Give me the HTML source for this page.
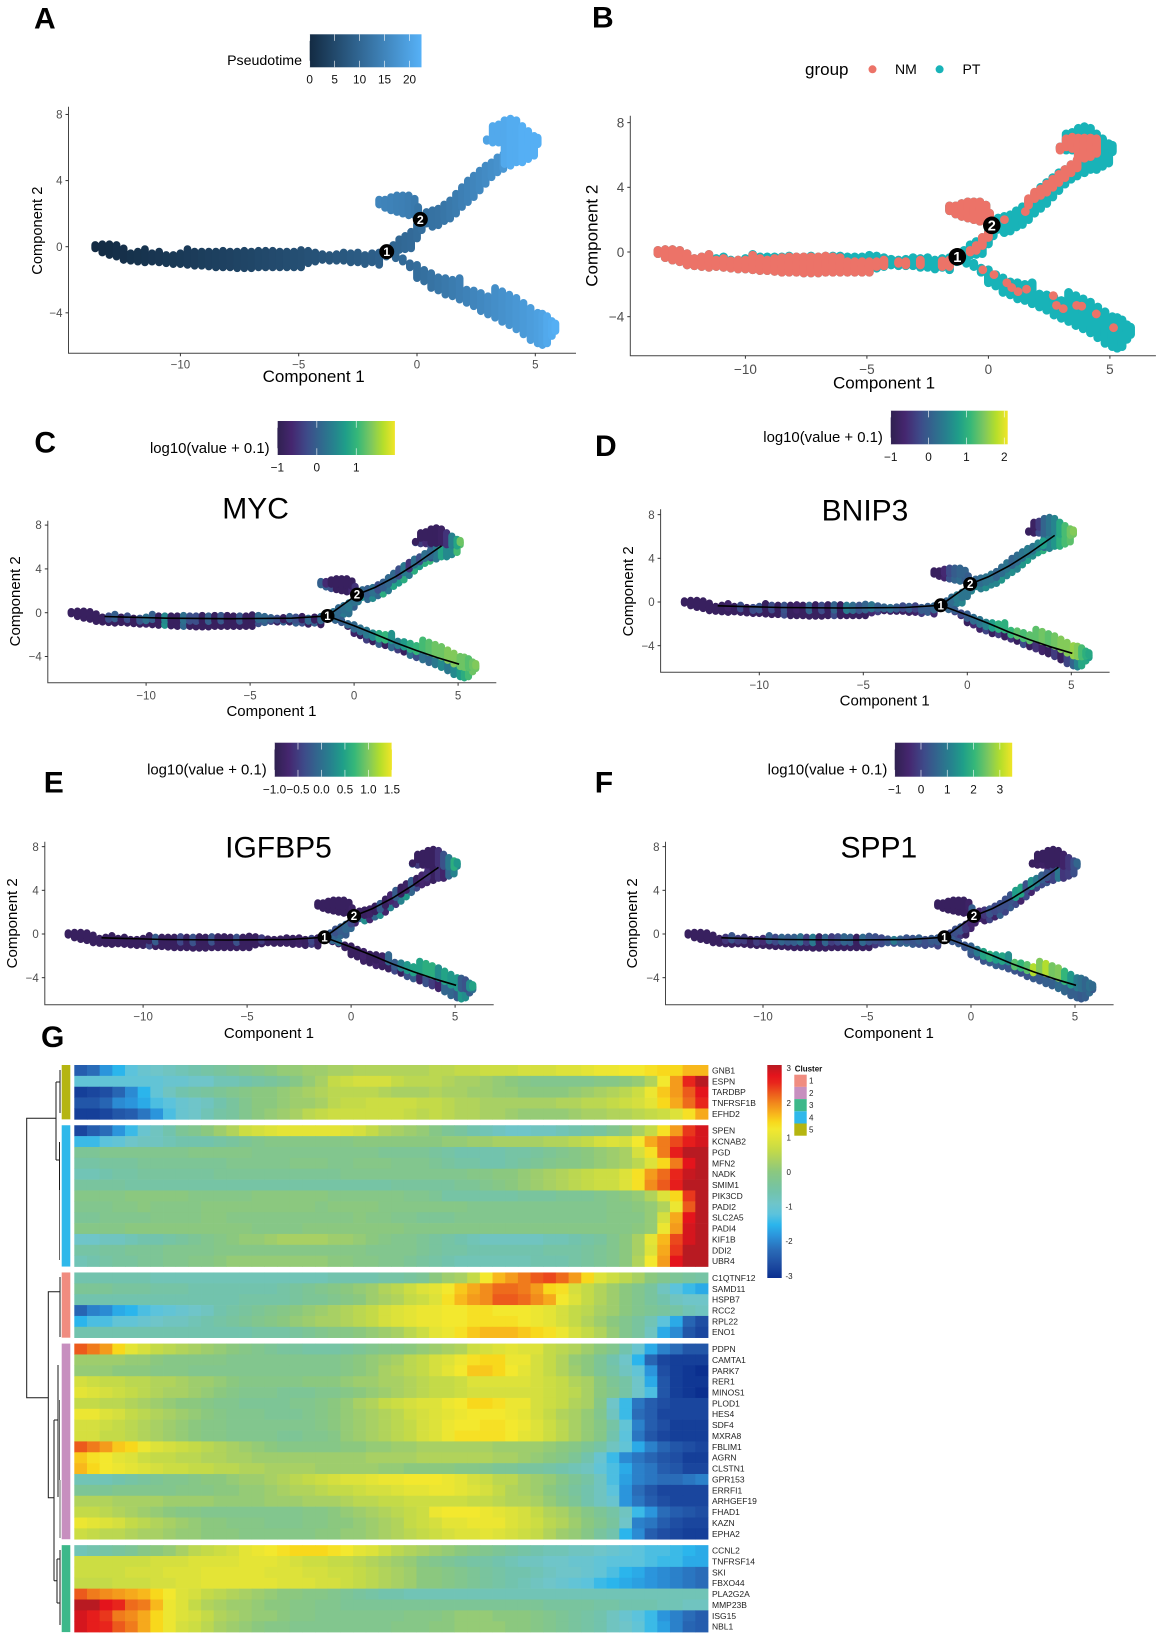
<!DOCTYPE html>
<html lang="en">
<head>
<meta charset="utf-8">
<title>Pseudotime trajectory figure</title>
<style>
html,body{margin:0;padding:0;background:#fff;}
svg{display:block;font-family:"Liberation Sans",sans-serif;}
</style>
</head>
<body>
<svg id="fig" width="1162" height="1637" viewBox="0 0 1162 1637">
<defs>
<linearGradient id="gradPseudo"><stop offset="0" stop-color="#132B43"/><stop offset="1" stop-color="#56B1F7"/></linearGradient>
<linearGradient id="gradViridis"><stop offset="0" stop-color="#2f2150"/><stop offset=".12" stop-color="#45266f"/><stop offset=".25" stop-color="#3e4a89"/><stop offset=".37" stop-color="#31688e"/><stop offset=".48" stop-color="#26828e"/><stop offset=".58" stop-color="#1f9e89"/><stop offset=".68" stop-color="#35b779"/><stop offset=".8" stop-color="#7ec85e"/><stop offset=".9" stop-color="#b5de2b"/><stop offset="1" stop-color="#f0e528"/></linearGradient>
<linearGradient id="gradHeat" x1="0" y1="0" x2="0" y2="1"></linearGradient>
</defs>
<rect width="1162" height="1637" fill="#fff"/>

<g font-weight="bold" font-size="30" fill="#000">
<text x="34" y="28.5">A</text>
<text x="592" y="27.5">B</text>
<text x="34.4" y="452.5">C</text>
<text x="595" y="456">D</text>
<text x="43.7" y="792.7">E</text>
<text x="594.7" y="792.7">F</text>
<text x="41" y="1047">G</text>
</g>

<g fill="#000">
<text x="302" y="65" font-size="14.2" text-anchor="end">Pseudotime</text>
<text x="805" y="75" font-size="17">group</text>
<text x="895" y="74" font-size="14">NM</text>
<text x="962.5" y="74" font-size="14">PT</text>
<text x="269.6" y="453" font-size="14.9" text-anchor="end">log10(value + 0.1)</text>
<text x="882.9" y="442" font-size="14.9" text-anchor="end">log10(value + 0.1)</text>
<text x="266.7" y="774.5" font-size="14.9" text-anchor="end">log10(value + 0.1)</text>
<text x="887.3" y="774.5" font-size="14.9" text-anchor="end">log10(value + 0.1)</text>
<text x="255.6" y="518.3" font-size="30" text-anchor="middle">MYC</text>
<text x="865" y="520.7" font-size="30" text-anchor="middle">BNIP3</text>
<text x="278.5" y="857.7" font-size="30" text-anchor="middle">IGFBP5</text>
<text x="878.8" y="857.7" font-size="30" text-anchor="middle">SPP1</text>
<text x="313.7" y="382" font-size="17" text-anchor="middle">Component 1</text>
<text x="884" y="388.5" font-size="17" text-anchor="middle">Component 1</text>
<text x="271.5" y="716" font-size="15" text-anchor="middle">Component 1</text>
<text x="884.7" y="705.5" font-size="15" text-anchor="middle">Component 1</text>
<text x="268.9" y="1038" font-size="15" text-anchor="middle">Component 1</text>
<text x="888.8" y="1038" font-size="15" text-anchor="middle">Component 1</text>
<text transform="translate(42 230.7) rotate(-90)" font-size="14.7" text-anchor="middle">Component 2</text>
<text transform="translate(597.5 235.7) rotate(-90)" font-size="17" text-anchor="middle">Component 2</text>
<text transform="translate(19.8 601.3) rotate(-90)" font-size="15" text-anchor="middle">Component 2</text>
<text transform="translate(633 591.3) rotate(-90)" font-size="15" text-anchor="middle">Component 2</text>
<text transform="translate(17.2 923.3) rotate(-90)" font-size="15" text-anchor="middle">Component 2</text>
<text transform="translate(637 923.3) rotate(-90)" font-size="15" text-anchor="middle">Component 2</text>
</g>

<path d="M56 1118.3H26.7V1397.7H48.3M60 1291.7H48.3V1497.7H54M60 1277V1337M54 1420V1580.7M54 1420H58M58 1365V1497M54 1580.7H57M57 1559V1603M57 1559H60M57 1603H60M60 1550V1590M60 1590V1625M56 1082V1160M56 1082H60M60 1070V1113M56 1160H59.5M59.5 1142V1190" fill="none" stroke="#1a1a1a" stroke-width="1"/>
<path d="M59.5 1190V1260M59.5 1400V1480M60 1480V1538" fill="none" stroke="#666" stroke-width="1"/>

<g id="panels"></g>
<g id="heat"></g>

<g font-size="8" fill="#111">
<text x="794.7" y="1071.5" font-weight="bold">Cluster</text>
</g>
</svg>

<script>
/* ---------- trajectory cells: one entry per cell column along Component 1 ---------- */
const colX=[
-13.6,-13.3,-13,-12.7,-12.4,-12.1,-11.8,-11.5,-11.2,-10.9,-10.6,-10.3,-10,-9.7,-9.4,-9.1,-8.8,-8.5,-8.2,-7.9,-7.6,-7.3,-7,-6.7,-6.4,-6.1,-5.8,-5.5,-5.2,-4.9,-4.6,-4.3,-4,-3.7,-3.4,-3.1,-2.8,-2.5,-2.2,-1.9,-1.6,-1.3,
-1,-.75,-.5,-.25,0,.2,
-1.6,-1.35,-1.1,-.85,-.6,-.35,-.1,.05,
.4,.65,.9,1.15,1.4,1.65,1.9,2.15,2.4,2.65,2.9,3.15,3.4,3.65,
2.95,3.2,3.45,3.7,3.95,4.2,4.45,4.7,4.95,5.1,
-.9,-.6,-.3,0,.3,.6,.9,1.2,1.5,1.8,2.1,2.4,2.7,3,3.3,3.6,3.9,4.2,4.5,4.8,5.1,5.3,5.5,5.7,5.85];
const colHi=[
.1,.15,.15,.1,-.1,-.4,-.3,-.15,-.4,-.3,-.5,-.5,-.4,-.15,-.3,-.3,-.3,-.3,-.25,-.3,-.3,-.25,-.3,-.25,-.25,-.25,-.3,-.3,-.3,-.2,-.25,-.35,-.45,-.5,-.45,-.35,-.4,-.35,-.5,-.4,-.35,-.3,
.1,.45,.65,.9,1.35,1.6,
2.85,2.85,3,3.1,3.1,3.1,2.9,2.4,
2.1,2.2,2.3,2.55,2.8,3.2,3.6,4,4.3,4.6,4.9,5.1,5.4,5.6,
6.5,7.3,7.4,7.65,7.75,7.65,7.3,7,6.7,6.6,
-.5,-.7,-1,-1.1,-1.4,-1.6,-1.85,-1.9,-2,-1.9,-2.6,-2.65,-2.8,-3,-2.5,-2.7,-2.9,-3.1,-3.4,-3.7,-4,-4.05,-4.2,-4.5,-4.65];
const colLo=[
-.1,-.35,-.5,-.6,-.8,-.85,-.9,-.95,-.9,-.95,-1,-1.05,-1.05,-1.1,-1.15,-1.15,-1.2,-1.25,-1.25,-1.25,-1.3,-1.3,-1.3,-1.25,-1.25,-1.25,-1.25,-1.25,-1.25,-1.25,-1,-.9,-.8,-.85,-.85,-.85,-.95,-.95,-1.05,-.95,-1.1,-.6,
-.1,-.2,-.15,-.1,.5,1,
2.55,2.35,2.2,2.1,2,1.9,1.9,2,
1.4,1.2,1.3,1.55,1.7,2,2.4,2.7,3,3.4,3.8,4.2,4.5,4.7,
6.4,6.3,6.3,5,4.9,5.1,5.1,5.3,5.5,6.2,
-.7,-.9,-1.25,-1.9,-2.1,-2.5,-2.65,-2.9,-3,-3.2,-3.4,-3.6,-3.9,-4.1,-4.3,-4.55,-4.75,-5,-5.3,-5.65,-5.85,-5.95,-5.85,-5.4,-5.1];
const pseudotime=[
0,.2,.4,.7,.9,1.1,1.3,1.5,1.7,1.9,2.1,2.3,2.5,2.7,2.9,3.1,3.3,3.5,3.7,3.9,4.1,4.3,4.5,4.8,5,5.2,5.4,5.6,5.8,6,6.3,6.5,6.8,7,7.3,7.5,7.8,8,8.3,8.6,8.9,9.3,
9.8,10,10.3,10.6,11,11.3,
15,14.7,14.5,14.2,14,13.7,13.2,12.5,
11.5,11.8,12,12.5,13,13.5,14,14.5,15,15.5,16,16.5,17,18,
20,21,21,21,21.5,21.5,22,22,22,22,
10,10.3,10.6,11,11.5,12,12.5,13,13.5,14,14.5,15,15.5,16,16.5,17,17.5,18,18.5,19,19.5,20,21,21.5,22];
/* NM sub-band of each column (null = PT only) */
const nmHi=[
.1,.15,.15,.1,-.1,-.4,-.3,-.15,-.5,-.4,-.55,-.5,-.5,-.2,-.4,-.5,-.4,-.35,-.3,-.3,-.3,-.3,-.3,-.25,-.3,-.35,-.6,-.6,-.6,-.6,-.6,-.5,null,-.6,-.6,null,-.5,null,null,-.55,-.5,null,
null,.1,.4,.9,1.2,null,
2.85,2.85,3,3.1,3.1,3.1,2.9,2.4,
null,null,null,null,null,3.3,3.7,3.9,4.2,4.5,4.8,5.1,5.4,5.7,
6.5,7,7.1,7.05,7.05,7.05,7,null,null,null,
null,null,null,null,null,null,null,null,null,null,null,null,null,null,null,null,null,null,null,null,null,null,null,null,null];
const nmLo=[
-.1,-.35,-.5,-.6,-.8,-.85,-.9,-.95,-.9,-.95,-1,-1.05,-1.05,-1.1,-1.15,-1.15,-1.2,-1.25,-1.25,-1.25,-1.3,-1.3,-1.3,-1.25,-1.25,-1.25,-1.25,-1.25,-1.25,-1.25,-.9,-.85,null,-.7,-.8,null,-.8,null,null,-.9,-.9,null,
null,0,.1,.4,.9,null,
2.55,2.35,2.2,2.1,2,1.9,1.9,2,
null,null,null,null,null,2.9,3.3,3.5,3.7,4,4.3,4.6,4.9,5.2,
6.3,6.5,6.4,5.9,5.8,5.9,6.1,null,null,null,
null,null,null,null,null,null,null,null,null,null,null,null,null,null,null,null,null,null,null,null,null,null,null,null,null];
const nmCellX=[-.23,.23,.76,.96,1.22,1.57,2.67,2.8,3.08,3.63,3.84,4.44,5.15,1.52,.66];
const nmCellY=[-1.1,-1.4,-1.9,-2.2,-2.45,-2.3,-2.7,-3.3,-3.5,-3.3,-3.35,-3.83,-4.68,2.5,2];
/* gene expression, log10(value+0.1): upper and lower half of every column */
const mycTop=[
-1,-1,-1,-1,-1,-1,-.2,0,-1,-.2,-1,-.1,.2,0,-1,.5,-1,-1,.2,-.2,-.2,-1,0,-1,-.1,-1,-1,-.1,-1,-1,.1,.1,0,-.2,-1,0,-.2,-1,.1,-1,.1,-1,
.2,.1,.2,.3,.2,0,
0,-.6,-1,-1,-1,-1,-1,-.5,
.1,0,.2,-.2,0,.1,.1,-.2,.3,-.5,.2,-.2,.2,.1,
-1,-1,-1,-1,-1,-.9,-.5,.4,.8,1.3,
.1,0,.1,.1,.2,.3,.5,.9,1,.6,.4,.7,.9,1,1.1,1.2,1.3,1.3,1.4,1.4,1.3,1.3,1.2,1.3,1.4];
const mycBot=[
-1,-1,-1,-1,-1,-1,-1,-1,-1,-1,-1,-1,-.8,-1,-1,.6,-1,-1,.1,-1,-1,-1,-1,-1,-1,-1,-1,-1,-1,-1,-.2,0,-.3,-1,0,-1,0,-.2,-1,0,-1,0,
0,.1,.3,.2,0,.3,
.1,0,-.2,-1,-1,-1,-.6,-.3,
.6,.1,.5,.1,.9,.3,.8,.7,.9,.3,.9,.7,.9,1,
-.2,-.4,-.6,-.2,.3,.8,.5,.5,1.1,1.2,
0,-.2,-1,-.8,-1,-.4,-1,0,-1,.1,-.4,-1,.2,-.2,.2,.1,.3,.5,.3,.5,.7,.9,1.1,1.3,1.3];
const bnip3Top=[
-1,-1,-1,-1,-1,-1,-1,-.8,-1,-.2,-1,-.2,-.1,-1,-.2,-1,-.1,-1,-.8,-1,.1,-1,-.2,-1,.1,-1,.4,.2,-.1,.1,.3,0,.1,.2,0,-.2,0,-.3,0,0,.1,0,
.1,.2,.4,.3,.3,.1,
-1,-1,-.6,-.2,0,.1,.1,0,
.1,.2,.3,.3,.1,.2,.3,.1,.2,.3,.4,.3,.5,.8,
-1,-.9,-.4,.1,.3,.5,.9,1.2,1.4,1.5,
.1,0,-.2,0,.2,.3,.5,.8,1,1,1.1,1.3,1.2,1.3,1.3,1.4,1.3,1.4,1.5,1.5,1.6,1.5,1.2,1,.9];
const bnip3Bot=[
-1,-1,-1,-1,-1,-1,-1,-1,-1,-1,-1,-1,-1,-1,-1,-1,-.2,-1,-1,-1,-1,-1,-1,-1,-.2,-1,-1,-1,-1,-1,-.6,-.4,-1,-.8,-1,-.9,-.9,-.8,-.4,0,-.6,-.6,
.1,.2,.4,.5,.3,.5,
-1,-.9,-.7,-.1,.1,.2,0,.1,
.5,.4,.6,.5,.5,.7,.5,.6,.5,.7,.8,.6,.8,1,
-1,-.9,-.2,.2,.5,.7,1,1.2,1.3,1.4,
.1,-.4,-.8,-1,-.6,-.8,-.3,-1,-.4,-1,-.5,-1,-.2,-1,-.5,-.8,-1,-.4,-1,-.3,.1,.5,.9,.9,.8];
const igfbp5Top=[
-1,-1,-1,-1,-1,-1,-1,-1,-1,-1,-1,-1,-1,-1,-.2,-1,-1,-1,-.4,-1,-.3,-1,-1,-.3,-1,-1,-1,-.3,-1,-1,-1,-.5,-1,-1,-1,-1,-1,-.9,-1,-.4,-1,-1,
-.2,-.3,-.2,-.1,-.4,-.9,
-1,-1,-1,-1,-1,-1,-1,-.9,
-1,-1,-.9,-1,-.2,-1,-.7,-.2,-1,-.9,-.2,-1,-.7,-.6,
-1,-1,-1,-1,-1,-.6,-.3,.1,.6,.4,
-.1,0,-1,-1,-1,-.8,-1,-1,-.9,-.1,-.2,.2,.4,.5,.5,.6,.6,.3,.5,.4,.4,-.2,-.3,.3,.5];
const igfbp5Bot=[
-1,-1,-1,-1,-1,-1,-1,-1,-1,-1,-1,-1,-1,-.4,-1,-1,-1,-1,-1,-1,-1,-1,-1,-1,-1,-1,-1,-1,-1,-1,-1,-1,-1,-1,-1,-.9,-1,-.8,-1,-.5,-1,-1,
-.9,-.2,-.1,-.2,-.1,-.7,
-1,-1,-1,-1,-1,-1,-1,-1,
-.1,.3,-.7,-.1,.3,-.8,.2,-.6,.2,.4,-.1,-.4,-.7,-.8,
-.1,-.5,-1,-.7,-1,-.6,-.8,-.1,.2,.2,
-1,-1,-1,-1,-1,-.9,-1,-.8,-1,-1,-.4,-1,-.3,-.2,-.9,-.3,-.5,-.8,-.1,-.1,-.2,.4,.3,-.2,0];
const spp1Top=[
-1,-1,-1,-1,-1,-1,-.2,.3,-.1,-.1,-1,-.1,-.4,.5,.1,.6,.4,.5,.8,-.1,1,-1,.6,-.1,.1,.6,.5,-1,.7,.3,.2,.1,.3,1,.5,.3,.3,.5,.2,.4,.4,.5,
.1,.2,.3,-.2,-.5,-.8,
-1,-1,-1,-1,-1,-1,-.8,.5,
-.6,-.2,.3,.1,.2,.2,.3,1.6,1.7,.2,1.4,1,.5,.3,
-1,-1,-1,-1,-1,-1,-.7,-.2,.2,.6,
.4,.3,.3,.5,1,1.7,1.9,1.6,1.7,1.3,2.3,2,2.3,3,2.6,3,2.5,2.6,2,1.5,1,.8,.6,.8,.7];
const spp1Bot=[
-1,-1,-1,-1,-1,-1,-1,-1,-1,-1,-1,-1,-1,-1,-1,-1,-1,-1,-1,-1,-1,-1,-1,-1,-1,-1,-1,-1,-1,-1,-.2,.1,.4,.2,.4,.6,.4,.2,.1,.2,0,.2,
.3,.1,-.2,-1,-.6,-.6,
-1,-1,-1,-1,-1,-1,-.9,-.5,
-.7,-.8,0,-.7,.5,0,.4,.1,-.6,.1,-.5,0,.1,.3,
-1,-.9,-.8,-.5,0,.9,-.2,-.1,.2,.5,
.3,.5,.2,.3,.2,.3,.4,.5,.4,.3,.3,.2,.3,.4,.4,.5,.5,.7,.6,.5,.5,.4,.5,.7,.4];
/* principal graph */
const nodeX=[-1.28,.14];
const nodeY=[-.3,1.65];
const nodeLabels=['1','2'];
const trunkX=[-12,-9,-6,-3,-1.28];
const trunkY=[-.35,-.5,-.55,-.5,-.3];
const upperX=[-1.28,.14,1,2,3,4.2];
const upperY=[-.3,1.65,2.3,3.3,4.5,6.1];
const lowerX=[-1.28,0,1,2,3,4,5.05];
const lowerY=[-.3,-1.2,-1.95,-2.75,-3.45,-4.1,-4.7];
/* axis tick labels */
const xTicks=[-10,-5,0,5];
const yTicks=[-4,0,4,8];
const pseudoTicks=[0,5,10,15,20];
const mycTicks=[-1,0,1];
const bnip3Ticks=[-1,0,1,2];
const igfbp5Ticks=[-1,-.5,0,.5,1,1.5];
const spp1Ticks=[-1,0,1,2,3];
const mycDomain=[-1,1.98];
const bnip3Domain=[-1,2.09];
const igfbp5Domain=[-1,1.5];
const spp1Domain=[-1,3.47];
const pseudoDomain=[0,22.4];
const panelLayouts={
 a:{x0:417,sx:23.66,y0:246.7,sy:16.53,left:68.5,right:576,top:106.7,bottom:353.3,r:3.9,node:7.5,tickFont:11.5,xLab:368.5},
 b:{x0:988.4,sx:24.3,y0:252,sy:16.17,left:630.3,right:1155.9,top:115.7,bottom:355.7,r:4.4,node:8.8,tickFont:13.5,xLab:374},
 c:{x0:354.1,sx:20.8,y0:612.7,sy:10.95,left:47.8,right:496.3,top:520.7,bottom:682.7,r:3.6,node:7,tickFont:11.5,xLab:699.5},
 d:{x0:967.3,sx:20.8,y0:602,sy:10.92,left:660.6,right:1109.6,top:509.3,bottom:672.3,r:3.6,node:7,tickFont:11.5,xLab:689},
 e:{x0:351.1,sx:20.8,y0:934,sy:10.92,left:44.8,right:493.7,top:841.7,bottom:1004.7,r:3.6,node:7,tickFont:11.5,xLab:1020.5},
 f:{x0:971,sx:20.8,y0:934,sy:10.92,left:665.5,right:1113.6,top:841.7,bottom:1004.7,r:3.6,node:7,tickFont:11.5,xLab:1020.5}
};
/* ---------- heatmap: z-score x10, 50 pseudotime bins per gene ---------- */
const clusterIds=[5,4,1,2,3];
const clusterSizes=[5,13,6,18,8];
const geneNames=['GNB1','ESPN','TARDBP','TNFRSF1B','EFHD2','SPEN','KCNAB2','PGD','MFN2','NADK','SMIM1','PIK3CD','PADI2','SLC2A5','PADI4','KIF1B','DDI2','UBR4','C1QTNF12','SAMD11','HSPB7','RCC2','RPL22','ENO1','PDPN','CAMTA1','PARK7','RER1','MINOS1','PLOD1','HES4','SDF4','MXRA8','FBLIM1','AGRN','CLSTN1','GPR153','ERRFI1','ARHGEF19','FHAD1','KAZN','EPHA2','CCNL2','TNFRSF14','SKI','FBXO44','PLA2G2A','MMP23B','ISG15','NBL1'];
const heatRows=[
[-24,-22,-18,-15,-12,-10,-9,-8,-7,-6,-5,-4,-3,-2,-1,0,1,1,2,2,3,3,4,4,4,4,4,4,5,5,6,6,7,7,7,8,8,8,9,9,10,11,11,12,12,13,14,14,16,16],
[-11,-11,-11,-11,-11,-11,-11,-10,-10,-9,-9,-7,-7,-6,-5,-4,-3,-1,1,3,6,7,8,8,8,6,5,5,5,4,3,3,2,1,0,-1,-2,-2,-2,-2,-2,-1,-1,0,1,4,12,18,25,30],
[-28,-27,-26,-23,-19,-15,-11,-8,-6,-5,-4,-3,-2,-1,0,0,1,2,3,4,5,5,5,5,4,3,3,3,4,3,3,2,2,1,1,0,0,0,0,1,2,3,4,5,7,11,15,18,22,27],
[-25,-25,-23,-19,-18,-16,-13,-12,-10,-9,-8,-6,-4,-2,0,0,1,2,2,3,5,6,6,7,7,7,7,6,6,5,4,4,3,3,3,3,3,3,4,4,5,5,6,7,8,10,14,17,21,25],
[-28,-28,-27,-25,-24,-21,-18,-13,-10,-9,-7,-5,-4,-2,0,1,2,3,5,6,7,7,7,7,7,7,6,5,6,5,4,4,3,3,2,1,1,1,1,2,3,3,4,4,5,6,7,9,13,17],
[-27,-24,-22,-18,-14,-10,-8,-6,-3,-2,0,2,4,7,8,9,10,10,10,10,10,9,8,6,4,3,2,1,-1,-3,-4,-6,-7,-8,-9,-9,-8,-8,-7,-6,-5,-4,-2,0,3,6,13,18,24,28],
[-14,-14,-12,-11,-9,-8,-8,-7,-6,-6,-6,-5,-4,-3,-2,-1,-1,-1,-1,-1,-1,-1,0,0,0,0,0,0,0,1,1,2,2,3,3,3,3,4,4,5,6,8,9,8,12,17,20,23,26,28],
[-3,-3,-2,-2,-2,-2,-2,-2,-2,-1,-1,-1,-1,-1,-2,-2,-2,-2,-2,-2,-2,-2,-2,-2,-3,-3,-3,-3,-4,-5,-6,-6,-6,-6,-5,-5,-4,-3,-2,-1,0,1,2,3,8,13,20,26,30,30],
[-5,-5,-4,-4,-4,-3,-3,-3,-3,-3,-3,-3,-2,-2,-2,-2,-2,-1,-1,-1,-2,-2,-1,-1,-1,-2,-2,-2,-3,-4,-5,-5,-6,-6,-5,-4,-3,-2,-1,-1,0,1,2,3,5,9,14,20,27,30],
[-7,-7,-6,-5,-5,-4,-4,-4,-4,-4,-4,-3,-3,-3,-3,-3,-3,-3,-3,-3,-3,-2,-2,-2,-2,-2,-2,-2,-2,-2,-2,-1,-1,0,0,1,2,3,4,5,6,7,7,9,13,18,21,25,29,30],
[-4,-4,-4,-4,-5,-5,-5,-5,-5,-5,-5,-5,-5,-5,-5,-5,-5,-5,-5,-5,-5,-5,-5,-5,-5,-4,-4,-4,-4,-4,-3,-3,-2,-1,0,1,2,3,4,5,6,7,7,9,13,19,22,26,30,30],
[-1,-1,-1,-1,0,0,0,0,0,-1,-1,-1,-1,-1,0,0,0,0,0,0,-1,-1,-1,-1,-1,-1,-2,-2,-3,-5,-5,-5,-5,-5,-5,-4,-4,-4,-3,-3,-3,-2,-1,0,1,4,9,14,24,30],
[-2,-2,-2,-1,-1,0,-1,-1,-1,-1,0,0,0,0,0,0,0,0,0,-1,0,0,0,0,-1,-1,-1,-1,-1,-1,-1,-2,-2,-2,-2,-2,-2,-2,-2,-2,-2,-2,-1,-1,0,1,4,11,22,30],
[-3,-3,-2,-2,-2,-2,-1,-1,-1,-1,0,0,-1,-1,-1,-1,-1,-1,-1,-1,-1,-1,0,-1,-1,-2,-2,-3,-3,-3,-2,-2,-2,-2,-2,-2,-2,-2,-2,-2,-2,-2,-1,-1,-1,1,8,17,27,30],
[-1,-1,-1,-1,0,0,0,0,0,0,0,0,0,0,-1,-1,-1,-1,0,0,0,0,0,0,0,0,-1,-1,-1,-1,-1,-1,-1,-1,-1,-1,-1,-1,-1,-1,-1,-1,-1,-1,0,1,11,18,28,30],
[-9,-9,-8,-8,-7,-6,-6,-5,-4,-3,-2,-1,0,1,1,2,3,3,3,3,2,2,1,0,-1,-2,-2,-3,-4,-5,-6,-7,-8,-8,-8,-8,-8,-7,-7,-6,-5,-4,-2,0,3,10,16,23,28,30],
[-5,-5,-4,-4,-3,-3,-3,-2,-2,-2,-2,-1,-1,-1,-1,-1,-1,-1,-1,-1,-1,-1,-1,-2,-2,-2,-2,-3,-4,-5,-5,-6,-6,-6,-6,-6,-6,-5,-5,-5,-4,-3,-2,0,3,9,17,24,30,30],
[-7,-6,-5,-4,-4,-3,-3,-2,-2,-1,-1,0,1,1,1,1,1,1,1,1,0,0,-1,-1,-2,-2,-3,-4,-5,-6,-7,-7,-7,-7,-7,-7,-6,-6,-6,-5,-4,-3,-2,0,4,12,18,27,30,30],
[-6,-6,-6,-6,-6,-6,-7,-7,-7,-7,-7,-7,-7,-7,-7,-7,-7,-7,-7,-7,-6,-6,-6,-6,-5,-5,-4,-3,0,2,3,6,12,16,18,20,22,23,21,18,14,9,7,5,3,0,-2,-3,-4,-5],
[-3,-3,-3,-4,-4,-4,-5,-5,-5,-6,-6,-6,-6,-6,-6,-6,-5,-4,-3,-2,-1,0,1,2,4,5,7,9,10,12,15,17,19,21,21,20,18,14,13,8,6,4,2,0,-2,-4,-8,-12,-14,-16],
[-6,-6,-6,-6,-6,-6,-6,-6,-6,-6,-6,-6,-6,-5,-5,-5,-5,-4,-3,-3,-2,-1,0,2,3,4,6,7,9,13,16,18,19,22,22,21,19,17,12,9,6,4,2,0,-2,-4,-6,-8,-9,-9],
[-23,-20,-19,-16,-15,-13,-12,-11,-10,-9,-8,-6,-5,-4,-3,-2,-1,0,1,2,3,4,5,6,8,9,10,11,11,12,12,13,13,12,12,12,11,10,8,6,5,3,2,0,-2,-3,-4,-5,-7,-8],
[-15,-13,-13,-11,-11,-10,-9,-8,-8,-7,-6,-5,-4,-3,-2,-1,0,1,2,3,3,4,5,6,8,9,10,11,11,12,12,13,13,13,13,12,11,10,8,6,4,2,0,-2,-4,-7,-12,-16,-23,-26],
[-6,-6,-6,-6,-6,-6,-6,-6,-6,-6,-6,-6,-6,-6,-5,-5,-5,-4,-3,-2,-1,-1,0,1,2,3,5,7,10,11,13,15,16,16,16,15,14,13,11,8,6,4,1,-2,-4,-8,-16,-19,-25,-27],
[22,20,18,14,10,8,6,5,4,3,2,1,0,-1,-2,-3,-4,-4,-5,-5,-5,-4,-3,-2,-1,-1,0,1,2,3,4,7,8,9,10,9,9,6,5,4,2,0,-2,-6,-10,-16,-20,-22,-25,-25],
[2,2,2,2,1,1,0,-1,-1,-1,-1,-1,-2,-2,-2,-2,-2,-2,-2,-2,-2,-1,0,1,2,3,5,6,8,9,11,13,14,14,11,11,8,6,4,1,0,-3,-6,-9,-15,-23,-27,-28,-28,-28],
[1,1,1,0,0,0,-1,-1,-1,-2,-2,-2,-2,-2,-2,-2,-2,-2,-2,-2,-2,-1,0,1,3,4,5,6,8,10,12,15,15,14,12,10,8,6,4,2,0,-3,-5,-8,-11,-18,-26,-28,-29,-30],
[8,7,6,6,5,5,4,4,3,2,2,1,0,-1,-1,-1,-1,-1,0,0,0,1,2,2,3,3,4,5,6,6,7,9,9,9,9,9,8,7,6,4,3,0,-3,-5,-9,-16,-25,-28,-29,-29],
[10,9,8,7,6,5,4,3,3,2,1,0,-1,-2,-2,-2,-3,-3,-3,-2,-2,-1,0,1,2,3,4,5,6,6,7,8,8,8,8,8,8,7,6,5,3,0,-2,-5,-9,-13,-25,-28,-29,-30],
[6,6,5,5,4,3,2,1,0,0,-1,-2,-2,-3,-3,-3,-3,-2,-2,-1,0,1,3,4,6,7,8,9,9,11,12,14,14,13,11,11,8,7,6,4,3,-1,-9,-14,-21,-24,-26,-27,-27,-27],
[11,11,9,8,6,5,4,3,2,1,0,-1,-2,-2,-2,-3,-3,-3,-2,-1,0,1,2,3,4,5,7,8,9,10,11,12,12,12,11,10,8,6,4,3,1,-2,-8,-14,-22,-24,-27,-27,-27,-27],
[8,8,7,6,5,4,3,2,1,0,-1,-1,-2,-2,-2,-2,-2,-2,-2,-1,0,1,2,3,4,5,6,8,9,11,12,12,13,13,12,11,9,7,5,3,1,-1,-5,-11,-20,-24,-26,-28,-28,-28],
[8,8,6,6,5,4,3,2,1,0,-1,-1,-2,-2,-2,-2,-3,-3,-2,-2,-1,1,2,3,4,5,6,8,9,11,13,13,13,13,12,10,9,7,5,3,1,-1,-6,-12,-21,-25,-27,-28,-28,-28],
[22,20,18,15,14,11,9,8,7,6,5,4,3,2,1,0,-1,-1,-1,-1,-1,0,0,1,1,2,2,3,3,3,3,3,3,2,2,2,2,1,0,-1,-3,-5,-8,-11,-16,-20,-23,-25,-26,-27],
[15,13,12,10,9,7,6,6,5,5,4,4,3,3,2,2,2,2,2,2,2,2,2,3,3,3,3,4,4,4,4,4,4,3,3,2,1,0,-1,-3,-6,-10,-14,-19,-21,-23,-25,-26,-28,-28],
[16,14,12,11,10,9,8,7,7,6,6,5,5,4,4,3,3,3,3,2,2,2,2,2,1,1,0,0,0,0,-1,-1,-2,-3,-3,-4,-4,-5,-6,-7,-8,-11,-13,-16,-20,-21,-24,-25,-27,-27],
[-7,-7,-7,-6,-5,-4,-3,-2,-2,-1,0,0,1,2,2,3,4,5,6,7,8,9,9,10,11,11,12,12,12,11,10,8,7,5,5,3,2,1,-1,-3,-5,-8,-13,-17,-20,-21,-22,-22,-21,-20],
[-3,-3,-3,-2,-2,-2,-2,-2,-1,-1,-1,0,0,1,1,2,3,4,4,5,6,6,7,8,8,9,10,10,11,11,10,9,8,6,4,3,2,0,-2,-4,-6,-8,-12,-18,-22,-25,-27,-27,-27,-27],
[4,4,4,3,3,3,3,2,2,2,2,1,1,1,1,2,2,2,3,3,3,4,5,5,6,6,7,7,7,7,7,6,6,5,4,4,3,1,-1,-3,-6,-8,-10,-18,-21,-24,-26,-27,-27,-27],
[6,6,5,4,3,2,1,0,-1,-1,-2,-2,-2,-2,-2,-2,-2,-2,-1,-1,0,1,2,3,4,5,6,7,11,12,12,12,11,10,9,8,6,4,3,1,-1,-3,-5,-8,-14,-18,-22,-24,-25,-26],
[11,10,9,8,6,5,4,3,2,1,0,0,-1,-1,-1,-2,-2,-2,-1,-1,0,0,1,2,3,4,6,7,8,10,10,11,11,11,9,8,7,5,4,2,0,-2,-4,-9,-20,-21,-24,-26,-27,-27],
[7,6,5,5,4,3,3,2,1,1,0,0,0,-1,-1,-1,-1,-1,-1,0,0,1,1,2,3,4,5,6,7,8,9,9,10,9,8,7,6,4,2,1,-1,-4,-6,-15,-19,-24,-26,-27,-28,-28],
[-7,-6,-5,-4,-3,-1,0,1,3,5,6,7,8,10,11,12,13,14,14,14,13,12,10,9,7,5,4,3,2,1,0,-1,-2,-3,-4,-5,-6,-7,-7,-8,-8,-9,-10,-11,-12,-13,-13,-14,-15,-16],
[7,7,7,7,7,7,8,8,8,9,9,9,9,10,10,10,9,8,7,7,6,6,5,4,3,2,1,-1,-2,-3,-4,-5,-5,-6,-7,-8,-8,-9,-9,-10,-10,-11,-12,-12,-12,-13,-14,-14,-16,-16],
[7,7,7,7,8,8,8,9,9,9,10,10,10,10,10,9,9,9,8,8,7,7,6,5,4,3,2,0,0,-1,-2,-3,-4,-5,-6,-6,-7,-8,-9,-9,-10,-11,-13,-15,-16,-18,-19,-20,-21,-22],
[6,6,6,7,7,7,8,8,9,9,10,10,10,10,10,10,9,9,9,8,8,7,6,5,4,3,2,0,0,-1,-2,-3,-4,-5,-6,-7,-8,-9,-10,-11,-12,-14,-15,-16,-17,-18,-19,-20,-21,-22],
[22,20,19,18,17,16,14,12,9,8,6,5,4,3,2,1,0,0,-1,-1,-2,-3,-4,-5,-6,-6,-7,-7,-7,-7,-7,-7,-7,-7,-7,-7,-7,-7,-7,-7,-7,-7,-7,-7,-7,-7,-7,-7,-7,-7],
[30,30,27,25,21,20,16,11,9,6,4,3,2,2,1,0,0,-1,-1,-2,-2,-3,-3,-3,-3,-3,-3,-3,-3,-3,-3,-3,-3,-3,-3,-3,-3,-4,-4,-4,-4,-5,-5,-6,-6,-6,-7,-7,-8,-8],
[28,26,24,20,19,17,14,11,9,8,6,4,3,2,1,1,0,-1,-1,-2,-2,-2,-2,-2,-2,-2,-1,-1,-1,0,1,1,1,0,0,0,-1,-2,-3,-4,-5,-6,-8,-10,-12,-14,-18,-20,-22,-24],
[28,26,25,22,20,17,14,11,8,7,5,3,2,1,0,-1,-1,-2,-2,-2,-2,-2,-2,-2,-2,-1,-1,-1,0,0,1,1,1,1,0,0,-1,-2,-3,-4,-5,-6,-8,-9,-11,-14,-17,-20,-23,-24]
];
const heatLegendTicks=[3,2,1,0,-1,-2,-3];
const clusterLegend=[1,2,3,4,5];

/* ---------- colour helpers ---------- */
const clusterColors={1:'#F08C80',2:'#C78FBF',3:'#3DB88A',4:'#2FB8EA',5:'#B5B511'};
const heatStops=[[-30,'#0b2f8f'],[-26,'#1f4ea3'],[-22,'#2a6cb8'],[-18,'#2b95dc'],[-15,'#2bb5ec'],[-12,'#5cc3dc'],[-9,'#6fc5c9'],[-6,'#72c3ad'],[-3,'#7dc596'],[0,'#8bc87f'],[3,'#a8d064'],[6,'#c4da48'],[9,'#dde23a'],[12,'#f3e82e'],[14,'#f8d81c'],[16,'#f8b81c'],[19,'#f28c1c'],[22,'#ec5a1c'],[25,'#e8251c'],[27,'#e4141c'],[30,'#b81a22']];
const viridisStops=[[0,'#38205f'],[.12,'#45266f'],[.25,'#3e4a89'],[.37,'#31688e'],[.48,'#26828e'],[.58,'#1f9e89'],[.68,'#35b779'],[.8,'#7ec85e'],[.9,'#b5de2b'],[1,'#f0e528']];
const pseudoStops=[[0,'#132B43'],[1,'#56B1F7']];
function rgb(h){return [parseInt(h.slice(1,3),16),parseInt(h.slice(3,5),16),parseInt(h.slice(5,7),16)];}
function ramp(stops,v){
  if(v<=stops[0][0])return stops[0][1];
  for(let i=1;i<stops.length;i++){
    if(v<=stops[i][0]){
      const f=(v-stops[i-1][0])/(stops[i][0]-stops[i-1][0]);
      const a=rgb(stops[i-1][1]),b=rgb(stops[i][1]);
      return 'rgb('+a.map((c,k)=>Math.round(c+(b[k]-c)*f)).join(',')+')';
    }
  }
  return stops[stops.length-1][1];
}
function fmt(v){return String(v).replace('-','\u2212');}
const fig=document.getElementById('fig');
const ns=fig.namespaceURI;
function mk(parent,tag,attrs,txt){
  const e=document.createElementNS(ns,tag);
  for(const k in attrs)e.setAttribute(k,attrs[k]);
  if(txt!==undefined)e.textContent=txt;
  parent.appendChild(e);
  return e;
}
const panels=document.getElementById('panels');

/* ---------- shared axis drawing ---------- */
function drawAxes(g,p,pre){
  const ax=mk(g,'path',{d:'M'+p.left+' '+p.top+'V'+p.bottom+'H'+p.right,fill:'none',stroke:'#444','stroke-width':1});
  
  
  xTicks.forEach(v=>{
    const px=p.x0+v*p.sx;
    const t=mk(g,'line',{x1:px,x2:px,y1:p.bottom,y2:p.bottom+3,stroke:'#333','stroke-width':1});
    
    
    const l=mk(g,'text',{x:px,y:p.xLab,'font-size':p.tickFont,'text-anchor':'middle',fill:'#4d4d4d'},fmt(v));
    
    
  });
  yTicks.forEach(v=>{
    const py=p.y0-v*p.sy;
    const t=mk(g,'line',{x1:p.left-3,x2:p.left,y1:py,y2:py,stroke:'#333','stroke-width':1});
    
    
    const l=mk(g,'text',{x:p.left-6,y:py+p.tickFont*.36,'font-size':p.tickFont,'text-anchor':'end',fill:'#4d4d4d'},fmt(v));
    
    
  });
}
function drawCapsule(g,p,x,a,b,color,name){
  const px=p.x0+x*p.sx;
  const c=mk(g,'line',{x1:px,x2:px+.01,y1:p.y0-a*p.sy,y2:p.y0-b*p.sy,stroke:color,'stroke-width':p.r*2,'stroke-linecap':'round'});
  
  
}
function drawNodes(g,p,pre){
  nodeX.forEach((v,i)=>{
    const px=p.x0+v*p.sx,py=p.y0-nodeY[i]*p.sy;
    const c=mk(g,'circle',{cx:px,cy:py,r:p.node,fill:'#000'});
    
    
    const t=mk(g,'text',{x:px,y:py+p.node*.58,'font-size':p.node*1.65,'text-anchor':'middle',fill:'#fff','font-weight':'bold'},nodeLabels[i]);
    
    
  });
}
function drawGraph(g,p,pre){
  [[trunkX,trunkY],[upperX,upperY],[lowerX,lowerY]].forEach(pair=>{
    const d=pair[0].map((v,i)=>(i?'L':'M')+(p.x0+v*p.sx).toFixed(1)+' '+(p.y0-pair[1][i]*p.sy).toFixed(1)).join('');
    const l=mk(g,'path',{d:d,fill:'none',stroke:'#000','stroke-width':1.6,'stroke-linejoin':'round'});
    
    
  });
}
function drawBar(g,x1,x2,y1,y2,fillId,domain,ticks,labY,pre,labelFn){
  const bar=mk(g,'rect',{x:x1,y:y1,width:x2-x1,height:y2-y1,fill:'url(#'+fillId+')'});
  
  
  const h=(y2-y1)/5;
  ticks.forEach(v=>{
    const px=x1+(v-domain[0])/(domain[1]-domain[0])*(x2-x1);
    const a=mk(g,'path',{d:'M'+px+' '+y1+'v'+h+'M'+px+' '+y2+'v'+(-h),stroke:'#fff','stroke-width':.7,opacity:.85});
    
    
    const t=mk(g,'text',{x:px,y:labY,'font-size':11.8,'text-anchor':'middle',fill:'#111'},labelFn(v));
    
    
  });
}

/* ---------- panel A ---------- */
(function(){
  const p=panelLayouts.a;
  const g=mk(panels,'g',{});
  
  
  drawAxes(g,p,'a');
  colX.forEach((x,i)=>{
    const col=ramp(pseudoStops,pseudotime[i]/pseudoDomain[1]);
    drawCapsule(g,p,x,colHi[i],colLo[i],col,'a-cell-column');
  });
  drawNodes(g,p,'a');
  drawBar(g,309.7,421.5,34.3,67.3,'gradPseudo',pseudoDomain,pseudoTicks,83.5,'pseudotime',v=>String(v));
})();

/* ---------- panel B ---------- */
(function(){
  const p=panelLayouts.b;
  const g=mk(panels,'g',{});
  
  
  drawAxes(g,p,'b');
  colX.forEach((x,i)=>{
    drawCapsule(g,p,x,colHi[i],colLo[i],'#18B3B8','b-pt-cells');
  });
  colX.forEach((x,i)=>{
    if(nmHi[i]!==null)drawCapsule(g,p,x,nmHi[i],nmLo[i],'#EC7368','b-nm-cells');
  });
  nmCellX.forEach((x,i)=>{
    drawCapsule(g,p,x,nmCellY[i],nmCellY[i],'#EC7368','b-nm-cell');
  });
  drawNodes(g,p,'b');
  const d1=mk(g,'circle',{cx:872.5,cy:69.3,r:4,fill:'#EC7368'});
  
  
  const d2=mk(g,'circle',{cx:939.6,cy:69.3,r:4,fill:'#18B3B8'});
  
  
})();

/* ---------- gene panels C-F ---------- */
function genePanel(key,pre,top,bot,domain,ticks,bar){
  const p=panelLayouts[key];
  const g=mk(panels,'g',{});
  
  
  drawAxes(g,p,pre);
  const span=domain[1]-domain[0];
  colX.forEach((x,i)=>{
    const mid=(colHi[i]+colLo[i])/2;
    drawCapsule(g,p,x,colLo[i],mid,ramp(viridisStops,(bot[i]-domain[0])/span),pre+'-cells-lower');
  });
  colX.forEach((x,i)=>{
    const mid=(colHi[i]+colLo[i])/2;
    drawCapsule(g,p,x,colHi[i],mid,ramp(viridisStops,(top[i]-domain[0])/span),pre+'-cells-upper');
  });
  drawGraph(g,p,pre);
  drawNodes(g,p,pre);
  drawBar(g,bar[0],bar[1],bar[2],bar[3],'gradViridis',domain,ticks,bar[4],pre,bar[5]);
}
genePanel('c','myc',mycTop,mycBot,mycDomain,mycTicks,[277.4,394.9,421,455,471.5,fmt]);
genePanel('d','bnip3',bnip3Top,bnip3Bot,bnip3Domain,bnip3Ticks,[890.7,1007.7,410.7,444.3,461,fmt]);
genePanel('e','igfbp5',igfbp5Top,igfbp5Bot,igfbp5Domain,igfbp5Ticks,[274.5,391.9,742.7,776.7,793.5,v=>fmt(v.toFixed(1))]);
genePanel('f','spp1',spp1Top,spp1Bot,spp1Domain,spp1Ticks,[894.7,1012.2,742.7,776.7,793.5,fmt]);

/* ---------- heatmap ---------- */
(function(){
  const g=document.getElementById('heat');
  const left=74.3,right=708,rowH=10.87,gap=5.9,binW=(right-left)/50;
  let y=1065,row=0;
  clusterIds.forEach((cid,b)=>{
    const size=clusterSizes[b];
    const ann=mk(g,'rect',{x:61.7,y:y,width:8.6,height:size*rowH,fill:clusterColors[cid]});
    
    
    for(let r=0;r<size;r++,row++){
      heatRows[row].forEach((v,c)=>{
        const cell=mk(g,'rect',{x:(left+c*binW).toFixed(2),y:(y+r*rowH).toFixed(2),width:(binW+.4).toFixed(2),height:(rowH+.3).toFixed(2),fill:ramp(heatStops,v)});
        
        
      });
      const t=mk(g,'text',{x:712,y:(y+r*rowH+rowH/2+3).toFixed(2),'font-size':8.5,fill:'#222'},geneNames[row]);
      
      
    }
    y+=size*rowH+gap;
  });
  const grad=document.getElementById('gradHeat');
  heatStops.slice().reverse().forEach(s=>{
    mk(grad,'stop',{offset:((30-s[0])/60).toFixed(3),'stop-color':s[1]});
  });
  const bar=mk(g,'rect',{x:767.3,y:1065,width:14.4,height:213,fill:'url(#gradHeat)'});
  
  
  heatLegendTicks.forEach(v=>{
    const ly=1172+(-v)*34.6+3;
    const t=mk(g,'text',{x:v<0?785.5:786.5,y:ly,'font-size':8,fill:'#222'},String(v));
    
    
  });
  clusterLegend.forEach((c,i)=>{
    const sw=mk(g,'rect',{x:794.3,y:1074.7+i*12.2,width:12.4,height:12.2,fill:clusterColors[c]});
    
    
    const t=mk(g,'text',{x:809,y:1074.7+i*12.2+9,'font-size':8,fill:'#222'},String(c));
    
    
  });
})();
</script>
</body>
</html>
